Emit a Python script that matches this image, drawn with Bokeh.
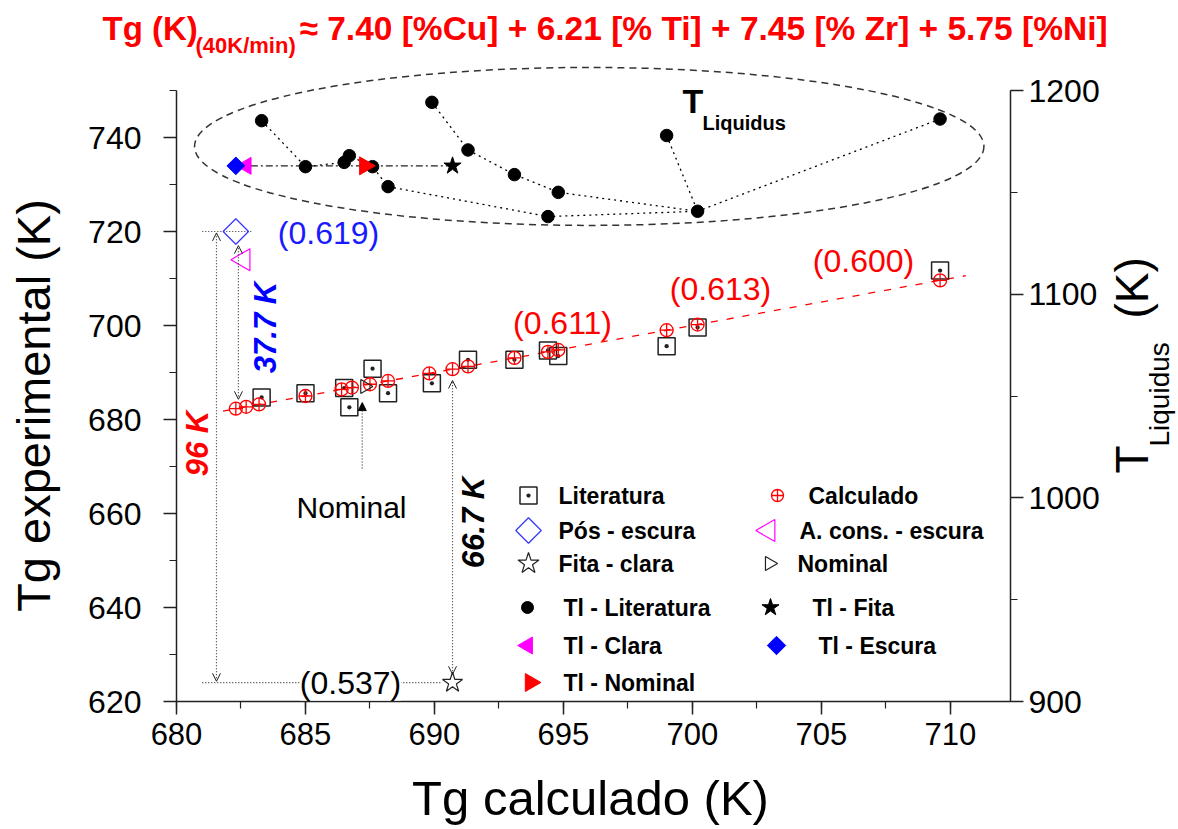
import numpy as np
from bokeh.plotting import figure
from bokeh.models import (Range1d, LinearAxis, SingleIntervalTicker, Label, Arrow, OpenHead, NormalHead)
from bokeh.embed import file_html
from bokeh.resources import INLINE

# ---------------- data ----------------
# Literatura: Tg calculado (x), Tg experimental (y), T liquidus (right axis)
lit_tg_calc = [683.3, 685.0, 686.5, 686.7, 687.6, 688.2, 689.9, 691.3, 693.1, 694.4, 694.8, 699.0, 700.2, 709.6]
lit_tg_exp = [684.7, 685.6, 686.7, 682.6, 690.8, 685.6, 687.7, 692.7, 692.7, 694.7, 693.5, 695.6, 699.6, 711.7]
lit_tl = [1185.2, 1162.6, 1164.7, 1168.0, 1162.6, 1152.8, 1194.2, 1170.8, 1158.7, 1138.1, 1150.0, 1177.9, 1140.7, 1186.0]

# Calculado (Tg calculado vs itself)
calc_tg_calc = [682.3, 682.7, 683.2, 685.0, 686.4, 686.8, 687.5, 688.2, 689.8, 690.7, 691.3, 693.1, 694.4, 694.8, 699.0, 700.2, 709.6]
calc_tg_exp = [682.3, 682.7, 683.2, 685.0, 686.4, 686.8, 687.5, 688.2, 689.8, 690.7, 691.3, 693.1, 694.4, 694.8, 699.0, 700.2, 709.6]

# experimental samples
pos_escura_x, pos_escura_y = [682.3], [720.0]
acons_x, acons_y = [682.6], [714.0]
fita_x, fita_y = [690.7], [624.0]
nominal_x, nominal_y = [687.3], [687.0]

# liquidus of the samples (right axis)
tl_escura_x, tl_escura = [682.3], [1163.0]
tl_clara_x, tl_clara = [682.7], [1163.0]
tl_nominal_x, tl_nominal = [687.3], [1163.0]
tl_fita_x, tl_fita = [690.7], [1163.0]

# dashed red reference line (y = x)
fit_x = [681.8, 710.6]
fit_y = [681.8, 710.6]

# dotted paths linking literature liquidus points (indices into lit arrays)
path_a = [0, 1, 2, 3, 4, 5, 9, 12, 13]
path_b = [6, 7, 8, 10, 12]
path_c = [11, 12]

# tick / axis settings
x_axis_limits = (680, 712.33)
y_axis_limits = (620, 750)
tl_axis_limits = (900, 1200)

# annotation texts
trg_texts = ["(0.619)", "(0.611)", "(0.613)", "(0.600)", "(0.537)"]
diff_texts = ["96 K", "37.7 K", "66.7 K"]
title_main = "Tg (K)"
title_sub = "(40K/min)"
title_rest = "\u2248 7.40 [%Cu] + 6.21 [% Ti] + 7.45 [% Zr] + 5.75 [%Ni]"

# ---------------- geometry: frame covers the whole canvas ----------------
W, H = 1178, 829
FL, FR, FB, FTOP = 176, 1010, 701, 90          # pixel positions of the axes
SX = (FR - FL) / (x_axis_limits[1] - x_axis_limits[0])
SY = (FB - FTOP) / (y_axis_limits[1] - y_axis_limits[0])
TLK = (tl_axis_limits[1] - tl_axis_limits[0]) / (y_axis_limits[1] - y_axis_limits[0])

x_lo = x_axis_limits[0] - FL / SX
x_hi = x_axis_limits[0] + (W - FL) / SX
y_lo = y_axis_limits[0] - (H - FB) / SY
y_hi = y_axis_limits[0] + FB / SY
tl_lo = tl_axis_limits[0] + (y_lo - y_axis_limits[0]) * TLK
tl_hi = tl_axis_limits[0] + (y_hi - y_axis_limits[0]) * TLK


def px2x(cx):
    return x_axis_limits[0] + (cx - FL) / SX


def px2y(cy):
    return y_axis_limits[0] + (FB - cy) / SY


SANS = "Liberation Sans"

p = figure(width=W, height=H, title=None, toolbar_location=None, output_backend="svg",
           x_range=Range1d(x_lo, x_hi), y_range=Range1d(y_lo, y_hi), min_border=0)
p.extra_y_ranges = {"tl": Range1d(tl_lo, tl_hi)}
p.outline_line_color = None
p.xgrid.grid_line_color = None
p.ygrid.grid_line_color = None
p.background_fill_color = "white"
p.border_fill_color = "white"

p.xaxis.fixed_location = y_axis_limits[0]
p.xaxis.bounds = x_axis_limits
p.xaxis.ticker = SingleIntervalTicker(interval=5, num_minor_ticks=2)
p.yaxis.fixed_location = x_axis_limits[0]
p.yaxis.bounds = y_axis_limits
p.yaxis.ticker = SingleIntervalTicker(interval=20, num_minor_ticks=2)
rax = LinearAxis(y_range_name="tl", bounds=tl_axis_limits, fixed_location=x_axis_limits[1],
                 ticker=SingleIntervalTicker(interval=100, num_minor_ticks=2))
p.add_layout(rax, "right")

for ax in [p.xaxis[0], p.yaxis[0], rax]:
    ax.major_tick_out = 13
    ax.major_tick_in = 0
    ax.minor_tick_out = 7
    ax.minor_tick_in = 0
    ax.axis_line_width = 1.5
    ax.axis_line_color = "#222222"
    ax.major_tick_line_color = "#222222"
    ax.minor_tick_line_color = "#222222"
    ax.major_tick_line_width = 1.5
    ax.minor_tick_line_width = 1.2
    ax.major_label_text_font = SANS
    ax.major_label_text_font_size = "31px"
    ax.major_label_text_color = "black"
p.yaxis.major_label_text_font_size = "32px"
p.xaxis.major_label_standoff = 8
p.yaxis.major_label_standoff = 22
rax.major_label_standoff = 5

# ---------------- liquidus region ----------------
for path in (path_a, path_b, path_c):
    p.line([lit_tg_calc[i] for i in path], [lit_tl[i] for i in path], y_range_name="tl",
           line_color="black", line_dash="2 4", line_width=1.3)

exp_tl_x = tl_escura_x + tl_clara_x + tl_nominal_x + tl_fita_x
exp_tl_y = tl_escura + tl_clara + tl_nominal + tl_fita
p.line(exp_tl_x, exp_tl_y, y_range_name="tl", line_color="#222222", line_dash="7 3 2 3", line_width=1.3)

# ellipse around liquidus data (centre, size in data units)
ELL_X, ELL_Y, ELL_W, ELL_H = [696.0], [738.1], [30.6], [33.6]
p.ellipse(x=ELL_X, y=ELL_Y, width=ELL_W, height=ELL_H, fill_color=None,
          line_color="#333333", line_dash="7 5", line_width=1.5)

STY = {
    "tl_lit": dict(marker="circle", size=12.5, fill_color="black", line_color="black", angle=0.0),
    "tl_fita": dict(marker="star", size=18, fill_color="black", line_color="black", angle=0.0),
    "tl_clara": dict(marker="triangle", size=17, fill_color="#ff00ff", line_color="#ff00ff", angle=np.pi / 2),
    "tl_escura": dict(marker="square", size=12.5, fill_color="#0000ff", line_color="#0000ff", angle=np.pi / 4),
    "tl_nominal": dict(marker="triangle", size=18, fill_color="#ff0000", line_color="#ff0000", angle=-np.pi / 2),
    "lit": dict(marker="square_dot", size=17, fill_color=None, line_color="#222222", line_width=1.5, angle=0.0),
    "calc": dict(marker="circle_cross", size=13, fill_color=None, line_color="#ff0000", line_width=1.3, angle=0.0),
    "pos": dict(marker="square", size=18, fill_color=None, line_color="#3333ff", line_width=1.2, angle=np.pi / 4),
    "acons": dict(marker="triangle", size=22, fill_color=None, line_color="#ff00ff", line_width=1.2, angle=np.pi / 2),
    "fita": dict(marker="star", size=21, fill_color="white", line_color="#222222", line_width=1.2, angle=0.0),
    "nom": dict(marker="triangle", size=14, fill_color=None, line_color="#222222", line_width=1.2, angle=-np.pi / 2),
}

p.scatter(lit_tg_calc, lit_tl, y_range_name="tl", **STY["tl_lit"])
p.scatter(tl_fita_x, tl_fita, y_range_name="tl", **STY["tl_fita"])
p.scatter(tl_clara_x, tl_clara, y_range_name="tl", **STY["tl_clara"])
p.scatter(tl_escura_x, tl_escura, y_range_name="tl", **STY["tl_escura"])
p.scatter(tl_nominal_x, tl_nominal, y_range_name="tl", **STY["tl_nominal"])

# ---------------- Tg region ----------------
p.line(fit_x, fit_y, line_color="#ff0000", line_dash="7 9", line_width=1.3)


def dotted(xs, ys):
    p.line(xs, ys, line_color="#333333", line_dash="1 2", line_width=1.2)


dotted([681.0, 682.9], [pos_escura_y[0], pos_escura_y[0]])
dotted([681.0, 690.3], [fita_y[0], fita_y[0]])


def arrow(x0, y0, x1, y1, both=True, head="open"):
    if head == "open":
        end = OpenHead(size=8, line_width=1, line_color="#222222")
    else:
        end = NormalHead(size=8, line_width=1, line_color="black", fill_color="black")
    start = OpenHead(size=8, line_width=1, line_color="#222222") if both else None
    p.add_layout(Arrow(x_start=x0, y_start=y0, x_end=x1, y_end=y1, start=start, end=end,
                       line_color="#333333", line_dash="1 2", line_width=1.2))


arrow(681.55, fita_y[0] + 0.3, 681.55, pos_escura_y[0] - 0.3)          # 96 K
arrow(682.4, 684.3, 682.4, pos_escura_y[0] - 3.0)                      # 37.7 K
arrow(690.7, fita_y[0] + 1.8, 690.7, 688.3)                            # 66.7 K
arrow(687.2, 669.6, 687.2, 683.6, both=False, head="filled")          # Nominal

p.scatter(lit_tg_calc, lit_tg_exp, **STY["lit"])
p.scatter(calc_tg_calc, calc_tg_exp, **STY["calc"])
p.scatter(pos_escura_x, pos_escura_y, **STY["pos"])
p.scatter(acons_x, acons_y, **STY["acons"])
p.scatter(fita_x, fita_y, **STY["fita"])
p.scatter(nominal_x, nominal_y, **STY["nom"])


# ---------------- texts ----------------
def put(text, cx, cy, size, color="black", style="normal", align="center", angle=0.0, bg=None):
    lab = Label(x=px2x(cx), y=px2y(cy), text=text,
                text_font_size=f"{size}px", text_color=color, text_font_style=style,
                text_align=align, text_baseline="middle", angle=angle, text_font=SANS)
    if bg is not None:
        lab.background_fill_color = bg
    p.add_layout(lab)


# title
put(title_main, 102, 28, 33, "#ff0000", "bold", "left")
put(title_sub, 195, 45, 22, "#ff0000", "bold", "left")
put(title_rest, 299, 28, 33.5, "#ff0000", "bold", "left")

# axis titles
put("Tg experimental (K)", 33, 405, 47, "black", "normal", "center", angle=np.pi / 2)
put("Tg calculado (K)", 590, 797, 49, "black", "normal", "center")
put("T", 1131, 473, 46, "black", "normal", "left", angle=np.pi / 2)
put("Liquidus", 1159, 446, 28, "black", "normal", "left", angle=np.pi / 2)
put("(K)", 1131, 318, 46, "black", "normal", "left", angle=np.pi / 2)

# liquidus tag in ellipse
put("T", 682, 100, 34, "black", "bold", "left")
put("Liquidus", 702, 122, 20, "black", "bold", "left")

# Trg values
put(trg_texts[0], 328, 232, 32, "#1a1aff")
put(trg_texts[1], 562, 322, 32, "#ff0000")
put(trg_texts[2], 720, 288, 32, "#ff0000")
put(trg_texts[3], 863, 260, 32, "#ff0000")
put(trg_texts[4], 350, 682, 32, "black", bg="white")

# differences
put(diff_texts[0], 197, 443, 31, "#ff0000", "bold italic", angle=np.pi / 2)
put(diff_texts[1], 265, 327, 31, "#0000ff", "bold italic", angle=np.pi / 2)
put(diff_texts[2], 473, 522, 31, "black", "bold italic", angle=np.pi / 2)
put("Nominal", 351, 507, 30, "black")

# ---------------- legend (two columns, drawn with the same marker styles) ----------------
legend_rows = [
    # (style key, label, marker cx, cy, label left x, legend marker size)
    ("lit", "Literatura", 528, 495, 558, 17),
    ("pos", "Pós - escura", 528, 530, 558, 18),
    ("fita", "Fita - clara", 528, 563, 558, 22),
    ("tl_lit", "Tl - Literatura", 527, 607, 563, 12),
    ("tl_clara", "Tl - Clara", 527, 645, 563, 17),
    ("tl_nominal", "Tl - Nominal", 530, 682, 563, 18),
    ("calc", "Calculado", 777, 495, 808, 12),
    ("acons", "A. cons. - escura", 768, 530, 799, 22),
    ("nom", "Nominal", 769, 563, 797, 14),
    ("tl_fita", "Tl - Fita", 770, 607, 812, 18),
    ("tl_escura", "Tl - Escura", 776, 645, 818, 13),
]
for key, text, mx, my, lx, msize in legend_rows:
    st = dict(STY[key])
    st["size"] = msize
    p.scatter([px2x(mx)], [px2y(my)], **st)
    put(text, lx, my, 23, "black", "bold", "left")

open("out.html", "w").write(file_html(p, INLINE))
